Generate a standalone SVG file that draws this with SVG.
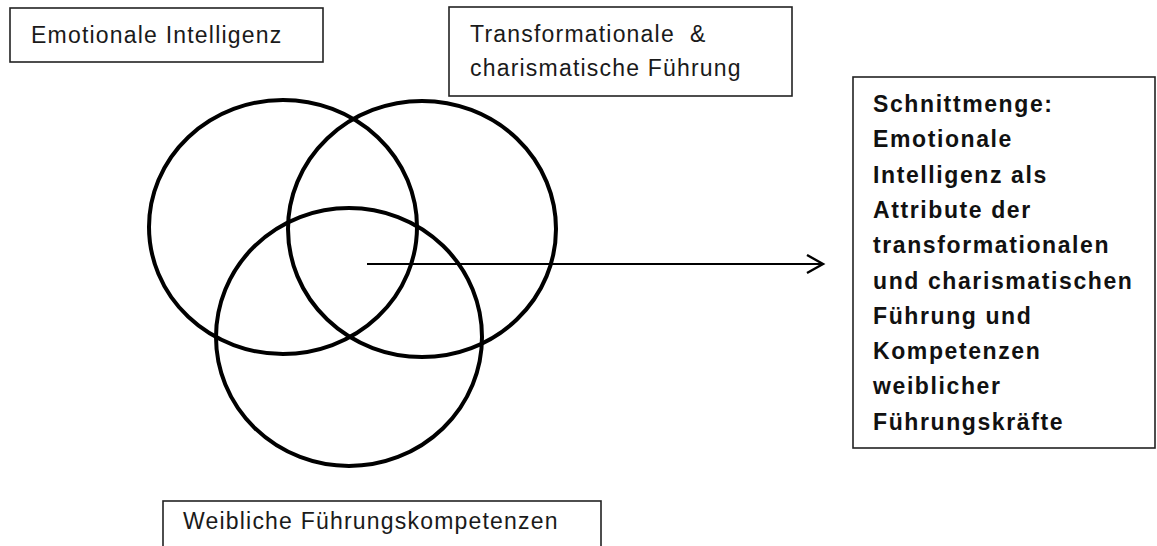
<svg xmlns="http://www.w3.org/2000/svg" width="1157" height="546" viewBox="0 0 1157 546">
<style>
.box{fill:#fff;stroke:#222;stroke-width:1.6}
.t{font-family:"Liberation Sans",Arial,sans-serif;font-size:23px;fill:#1a1a1a;letter-spacing:1.2px}
.b{font-family:"Liberation Sans",Arial,sans-serif;font-size:23px;font-weight:bold;fill:#111;letter-spacing:1.6px}
.c{fill:none;stroke:#000;stroke-width:4}
.conn{stroke:#000;stroke-width:2.2;fill:none}
</style>
<defs>
<marker id="arr" markerUnits="userSpaceOnUse" markerWidth="20" markerHeight="22" refX="17" refY="10" orient="auto">
<path d="M1,1 L17,10 L1,19" fill="none" stroke="#000" stroke-width="2.4"/>
</marker>
</defs>
<rect width="1157" height="546" fill="#fff"/>
<g id="circles">
<ellipse id="circle-ei" class="c" cx="283" cy="227" rx="134" ry="127"/>
<ellipse id="circle-tf" class="c" cx="422" cy="229" rx="134" ry="128"/>
<ellipse id="circle-wf" class="c" cx="349" cy="337" rx="133" ry="129"/>
</g>
<g id="connectors">
<line class="conn" x1="367" y1="264" x2="823" y2="264" marker-end="url(#arr)"/>
</g>
<g id="node-ei">
<rect class="box" x="10" y="8" width="313" height="54"/>
<text class="t" x="31" y="43">Emotionale Intelligenz</text>
</g>
<g id="node-tf">
<rect class="box" x="449" y="7" width="343" height="89"/>
<text class="t" x="470" y="42" xml:space="preserve">Transformationale  &amp;</text>
<text class="t" x="470" y="76">charismatische Führung</text>
</g>
<g id="node-wf">
<rect class="box" x="163" y="501" width="438" height="60"/>
<text class="t" x="183" y="529">Weibliche Führungskompetenzen</text>
</g>
<g id="node-schnitt">
<rect class="box" x="853" y="77" width="302" height="371"/>
<text class="b" x="873" y="112">Schnittmenge:</text>
<text class="b" x="873" y="147.3">Emotionale</text>
<text class="b" x="873" y="182.6">Intelligenz als</text>
<text class="b" x="873" y="217.9">Attribute der</text>
<text class="b" x="873" y="253.2">transformationalen</text>
<text class="b" x="873" y="288.5">und charismatischen</text>
<text class="b" x="873" y="323.8">Führung und</text>
<text class="b" x="873" y="359.1">Kompetenzen</text>
<text class="b" x="873" y="394.4">weiblicher</text>
<text class="b" x="873" y="429.7">Führungskräfte</text>
</g>
</svg>
